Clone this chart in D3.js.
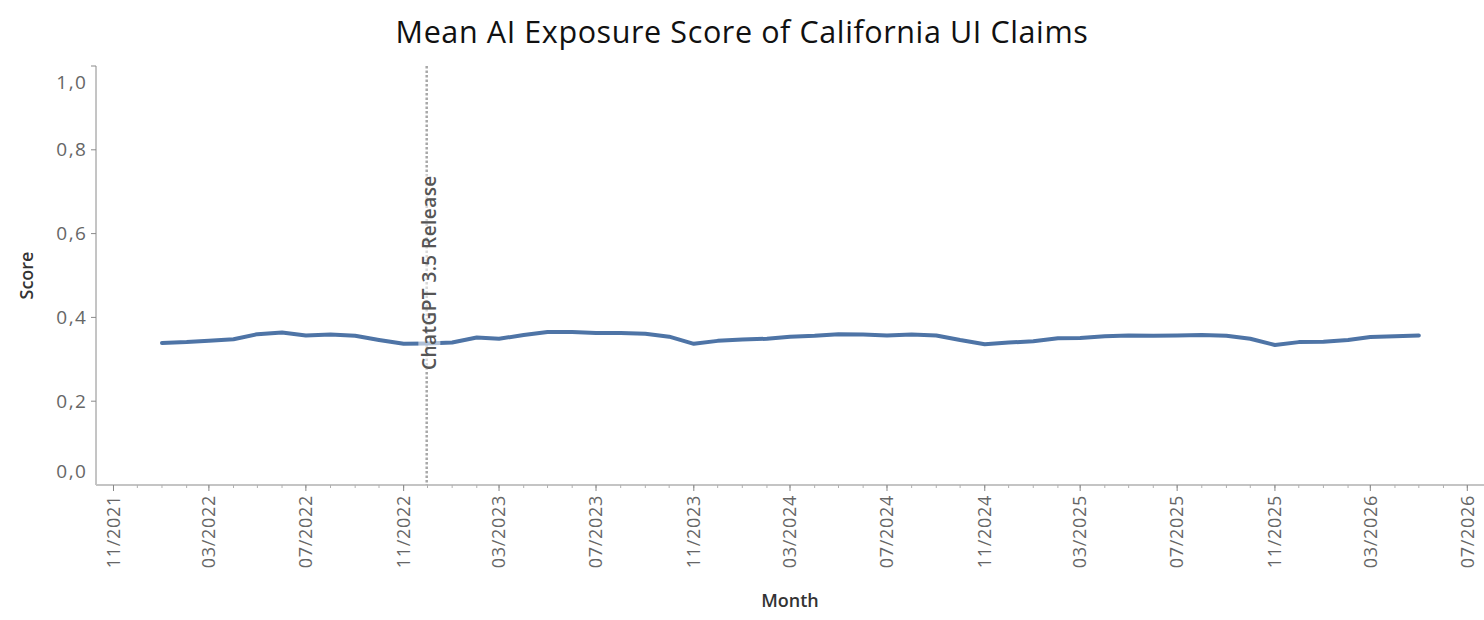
<!DOCTYPE html>
<html>
<head>
<meta charset="utf-8">
<script src="https://cdn.jsdelivr.net/npm/d3@7"></script>
<style>
  html, body { margin: 0; padding: 0; background: #fff; }
  svg { display: block; font-family: "Open Sans", "Noto Sans", sans-serif; }
</style>
</head>
<body>
<svg id="chart" width="1484" height="620"></svg>
<script>
// ---- data ----
const title = "Mean AI Exposure Score of California UI Claims";
const months = [
  "2022-01","2022-02","2022-03","2022-04","2022-05","2022-06","2022-07","2022-08","2022-09","2022-10","2022-11","2022-12",
  "2023-01","2023-02","2023-03","2023-04","2023-05","2023-06","2023-07","2023-08","2023-09","2023-10","2023-11","2023-12",
  "2024-01","2024-02","2024-03","2024-04","2024-05","2024-06","2024-07","2024-08","2024-09","2024-10","2024-11","2024-12",
  "2025-01","2025-02","2025-03","2025-04","2025-05","2025-06","2025-07","2025-08","2025-09","2025-10","2025-11","2025-12",
  "2026-01","2026-02","2026-03","2026-04","2026-05"
];
const scores = [
  0.339,0.341,0.344,0.348,0.360,0.364,0.357,0.359,0.356,0.346,0.337,0.338,
  0.340,0.352,0.349,0.358,0.365,0.365,0.363,0.363,0.361,0.354,0.337,0.344,
  0.347,0.349,0.354,0.356,0.360,0.359,0.357,0.359,0.357,0.346,0.336,0.340,
  0.343,0.350,0.351,0.355,0.357,0.356,0.357,0.358,0.356,0.349,0.334,0.341,
  0.342,0.346,0.353,0.355,0.357
];
const yTicks = [0, 0.2, 0.4, 0.6, 0.8, 1.0];
const xDomain = ["2021-10-10", "2026-07-22"];
const refDate = "2022-11-30";
const refLabel = "ChatGPT 3.5 Release";
const xAxisTitle = "Month";
const yAxisTitle = "Score";

// ---- layout ----
const W = 1484, H = 620;
const m = { left: 96, right: 0, top: 66, bottom: 135 };
const parse = d3.utcParse("%Y-%m-%d");
const parseM = d3.utcParse("%Y-%m");
const data = months.map((mm, i) => ({ date: parseM(mm), v: scores[i] }));

const svg = d3.select("#chart");
const x = d3.scaleUtc().domain(xDomain.map(parse)).range([m.left, W - m.right]);
const y = d3.scaleLinear().domain([0, 1]).range([H - m.bottom, m.top]);
const y0 = y(0);

const comma = v => d3.format(".1f")(v).replace(".", ",");

// title
svg.append("text")
  .attr("x", W / 2).attr("y", 43)
  .attr("text-anchor", "middle")
  .attr("font-size", 30.5).attr("fill", "#111")
  .attr("letter-spacing", 0.6)
  .text(title);

// y axis
const gy = svg.append("g");
gy.append("line").attr("x1", m.left).attr("x2", m.left)
  .attr("y1", y(1)).attr("y2", y0).attr("stroke", "#8a8a8a").attr("stroke-width", 1);
gy.selectAll("line.tick").data(yTicks.filter(d => d > 0)).join("line")
  .attr("class", "tick")
  .attr("x1", m.left - 5).attr("x2", m.left)
  .attr("y1", d => y(d)).attr("y2", d => y(d))
  .attr("stroke", "#8a8a8a");
gy.selectAll("text").data(yTicks).join("text")
  .attr("x", m.left - 8.5)
  .attr("y", d => y(d) + (d === 1 ? 16 : d === 0 ? -14 : 0))
  .attr("dy", "0.35em")
  .attr("text-anchor", "end")
  .attr("font-size", 19).attr("fill", "#666")
  .attr("letter-spacing", 1.5)
  .text(comma);

// x axis
const gx = svg.append("g");
gx.append("line").attr("x1", m.left).attr("x2", W)
  .attr("y1", y0).attr("y2", y0).attr("stroke", "#c4c4c4").attr("stroke-width", 2);
const monthTicks = d3.utcMonth.range(parse(xDomain[0]), parse(xDomain[1]));
const majorTicks = monthTicks.filter(d => (d.getUTCMonth() + 1) % 4 === 3);
gx.selectAll("line.minor").data(monthTicks).join("line")
  .attr("class", "minor")
  .attr("x1", d => x(d)).attr("x2", d => x(d))
  .attr("y1", y0).attr("y2", y0 + 3)
  .attr("stroke", "#b0b0b0");
gx.selectAll("line.major").data(majorTicks).join("line")
  .attr("class", "major")
  .attr("x1", d => x(d)).attr("x2", d => x(d))
  .attr("y1", y0).attr("y2", y0 + 6)
  .attr("stroke", "#888");
gx.selectAll("text").data(majorTicks).join("text")
  .attr("transform", d => `translate(${x(d)},${y0 + 10}) rotate(-90)`)
  .attr("dy", "0.35em")
  .attr("text-anchor", "end")
  .attr("font-size", 18).attr("fill", "#666")
  .attr("letter-spacing", 0.7)
  .text(d3.utcFormat("%m/%Y"));

// axis titles
svg.append("text")
  .attr("x", (m.left + W) / 2).attr("y", 607)
  .attr("text-anchor", "middle")
  .attr("font-size", 18).attr("font-weight", 600).attr("fill", "#333")
  .text(xAxisTitle);
svg.append("text")
  .attr("transform", `translate(33,${(y(1) + y0) / 2}) rotate(-90)`)
  .attr("text-anchor", "middle")
  .attr("font-size", 18).attr("font-weight", 600).attr("fill", "#333")
  .text(yAxisTitle);

// reference line
const rx = x(parse(refDate));
svg.append("line")
  .attr("x1", rx).attr("x2", rx).attr("y1", y(1)).attr("y2", y0)
  .attr("stroke", "#a8a8a8").attr("stroke-width", 2.5)
  .attr("stroke-dasharray", "2.5,2");

// series line
const line = d3.line().x(d => x(d.date)).y(d => y(d.v)).curve(d3.curveLinear);
svg.append("path").datum(data)
  .attr("d", line)
  .attr("fill", "none")
  .attr("stroke", "#4e74a6")
  .attr("stroke-width", 4)
  .attr("stroke-linejoin", "round")
  .attr("stroke-linecap", "round");

// reference label with translucent white background
const lab = svg.append("g").attr("transform", `translate(${rx + 3},370) rotate(-90)`);
const t = lab.append("text")
  .attr("x", 0).attr("y", 0).attr("dy", "0.35em")
  .attr("text-anchor", "start")
  .attr("font-size", 19).attr("font-weight", 600).attr("fill", "#555")
  .attr("letter-spacing", 0.45)
  .text(refLabel);
const bb = t.node().getBBox();
lab.insert("rect", "text")
  .attr("x", bb.x - 1).attr("y", bb.y + 2)
  .attr("width", bb.width + 2).attr("height", bb.height - 4)
  .attr("fill", "#fff").attr("fill-opacity", 0.55);
</script>
</body>
</html>
